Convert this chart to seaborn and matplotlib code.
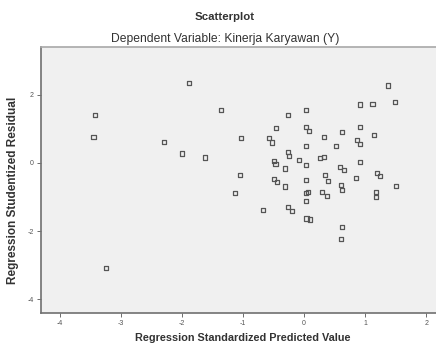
import matplotlib
matplotlib.use("Agg")
import matplotlib.pyplot as plt
import seaborn as sns
import pandas as pd

predicted = [-3.43, -3.45, -3.25, -1.89, -1.36, -2.30, -2.00, -1.62, -1.04, -1.05,
             -1.13, 1.38, 0.92, 1.12, 1.49, -0.27, 0.03, -0.46, 0.03, 0.08,
             0.33, 0.62, 0.91, 1.15, -0.57, -0.53, 0.03, 0.52, 0.86, 0.92,
             -0.27, -0.25, -0.50, -0.47, -0.31, -0.09, 0.03, 0.26, 0.33, 0.59,
             0.65, 0.91, -0.50, -0.45, -0.31, 0.03, 0.34, 0.39, 0.61, 0.62,
             0.85, 1.19, 1.24, 1.51, -0.67, -0.26, -0.20, 0.03, 0.03, 0.04,
             0.09, 0.29, 0.37, 0.62, 0.60, 1.18, 1.18, 0.06]
residual = [1.41, 0.77, -3.08, 2.36, 1.56, 0.61, 0.28, 0.16, 0.74, -0.35,
            -0.89, 2.28, 1.72, 1.73, 1.79, 1.41, 1.57, 1.02, 1.06, 0.93,
            0.77, 0.92, 1.06, 0.83, 0.73, 0.60, 0.49, 0.49, 0.68, 0.56,
            0.32, 0.21, 0.05, -0.02, -0.16, 0.09, -0.05, 0.14, 0.17, -0.11,
            -0.21, 0.04, -0.48, -0.57, -0.69, -0.51, -0.35, -0.52, -0.65, -0.80,
            -0.43, -0.30, -0.39, -0.68, -1.37, -1.29, -1.40, -0.87, -1.11, -1.63,
            -1.66, -0.85, -0.97, -1.87, -2.24, -0.85, -0.99, -0.86]

x_ticks = [-4, -3, -2, -1, 0, 1, 2]
y_ticks = [-4, -2, 0, 2]

title = "Scatterplot"
subtitle = "Dependent Variable: Kinerja Karyawan (Y)"
x_label = "Regression Standardized Predicted Value"
y_label = "Regression Studentized Residual"

df = pd.DataFrame({"pred": predicted, "resid": residual})

sns.set_theme(style="white")
plt.rcParams["font.family"] = ["Liberation Sans", "DejaVu Sans"]

fig = plt.figure(figsize=(4.36, 3.44), dpi=100)
ax = fig.add_axes([41 / 436, 1 - 313 / 344, 1 - 41 / 436, (313 - 47) / 344])
ax.set_facecolor("#f0f0f0")

sns.scatterplot(data=df, x="pred", y="resid", ax=ax, marker="s", s=9,
                facecolors="none", edgecolor="#555555", linewidth=0.9)

ax.set_xlim(-4.31, 2.16)
ax.set_ylim(-4.41, 3.41)
ax.set_xticks(x_ticks)
ax.set_yticks(y_ticks)
ax.set_xticklabels([str(t) for t in x_ticks])
ax.set_yticklabels([str(t) for t in y_ticks])
ax.tick_params(axis="both", labelsize=5, colors="#555555", length=3, width=0.6,
               direction="out", bottom=True, left=True, pad=2)
ax.set_xlabel("")
ax.set_ylabel("")
ax.spines["right"].set_visible(False)
ax.spines["top"].set_color("#a8a8a8")
ax.spines["top"].set_linewidth(1.2)
for side in ["left", "bottom"]:
    ax.spines[side].set_color("#707070")
    ax.spines[side].set_linewidth(1.2)

fig.text(225 / 436, 1 - 17 / 344, title, ha="center", va="center",
         fontsize=8.2, fontweight="bold", color="#333333")
fig.text(225 / 436, 1 - 39 / 344, subtitle, ha="center", va="center",
         fontsize=8.7, color="#333333")
fig.text(243 / 436, 1 - 338 / 344, x_label, ha="center", va="center",
         fontsize=7.8, fontweight="bold", color="#333333")
fig.text(13 / 436, 1 - 190 / 344, y_label, ha="center", va="center",
         fontsize=8.5, fontweight="bold", color="#333333", rotation=90)

fig.savefig("out.png", dpi=100, facecolor="white")
